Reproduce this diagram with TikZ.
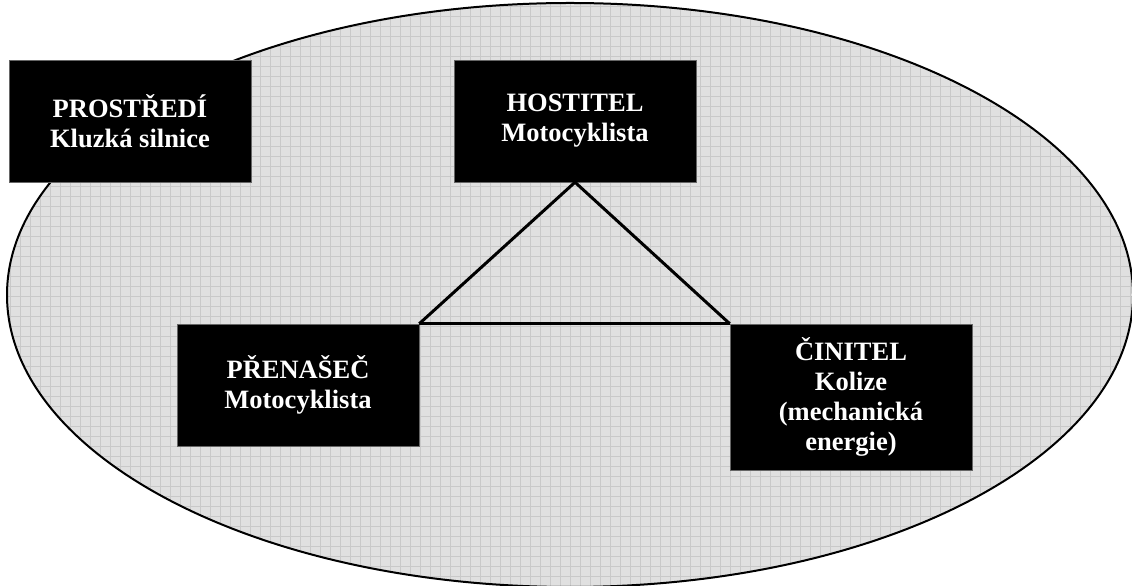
\documentclass[tikz,border=0pt]{standalone}
\usepackage{fontspec}
\setmainfont{Liberation Serif}
\begin{document}
\begin{tikzpicture}[x=1pt,y=1pt,
  box/.style={fill=black,draw=black!60,line width=0.5pt,text=white,align=center,inner sep=0pt,
    font=\bfseries\fontsize{26.5}{30}\selectfont,
    minimum width=242pt,minimum height=122pt}]
\useasboundingbox (0,0) rectangle (1132,586);
% field (ellipse with grid)
\begin{scope}
\clip (570,291) ellipse [x radius=563, y radius=292];
\fill[black!12] (0,0) rectangle (1132,586);
\foreach \x in {0,10,...,1130} \draw[black!21,line width=0.5pt] (\x,0) -- (\x,586);
\foreach \y in {0,10,...,580} \draw[black!21,line width=0.5pt] (0,\y) -- (1132,\y);
\end{scope}
\draw[line width=2pt] (570,291) ellipse [x radius=563, y radius=292];
% boxes
\node[box] (env) at (130,465) {PROSTŘEDÍ\\Kluzká silnice};
\node[box] (host) at (575,465) {HOSTITEL\\Motocyklista};
\node[box] (vec) at (298,201) {PŘENAŠEČ\\Motocyklista};
\node[box,minimum height=146pt] (agent) at (851,189) {ČINITEL\\Kolize\\(mechanická\\energie)};
% triangle
\draw[line width=3pt] (host.south) -- (vec.north east);
\draw[line width=3pt] (host.south) -- (agent.north west);
\draw[line width=3pt] (vec.north east) -- (agent.north west);
\end{tikzpicture}
\end{document}
